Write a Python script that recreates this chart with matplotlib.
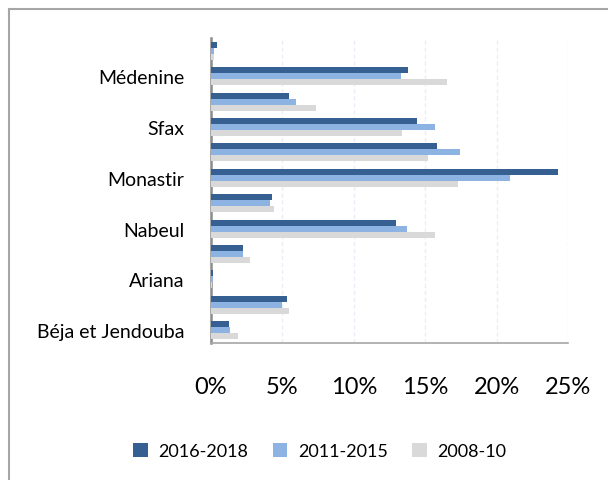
import numpy as np
import matplotlib

matplotlib.use('Agg')

import matplotlib.pyplot as plt
from matplotlib.lines import Line2D

plt.rcParams['font.family'] = ['Lato', 'DejaVu Sans']

# categories from top to bottom (only every other label is shown on the chart)
regions = ['Tataouine', 'Médenine', 'Gabès', 'Sfax', 'Sousse', 'Monastir',
           'Mahdia', 'Nabeul', 'Tunis', 'Ariana', 'Bizerte', 'Béja et Jendouba']
shown = [False, True, False, True, False, True, False, True, False, True, False, True]

s2016 = [0.42, 13.8, 5.47, 14.44, 15.84, 24.3, 4.27, 12.96, 2.24, 0.14, 5.33, 1.26]
s2011 = [0.20, 13.3, 5.96, 15.70, 17.45, 20.95, 4.13, 13.73, 2.24, 0.14, 4.98, 1.33]
s2008 = [0.20, 16.5, 7.36, 13.40, 15.20, 17.3, 4.41, 15.70, 2.73, 0.10, 5.47, 1.89]

series = ['2016-2018', '2011-2015', '2008-10']
colors = ['#365f92', '#8db3e2', '#d9d9d9']

fig = plt.figure(figsize=(6.08, 4.81), dpi=100)
ax = fig.add_axes([211/608, 1 - 344/481, 357/608, 305/481])

n = len(regions)
y = np.arange(n)[::-1]
h = 0.236
for k, (vals, lab, col) in enumerate(zip([s2016, s2011, s2008], series, colors)):
    ax.barh(y + (1 - k) * h, vals, height=h, color=col, label=lab, zorder=3)

ax.set_xlim(0, 25)
ax.set_ylim(-0.5, n - 0.5)
ax.set_xticks([0, 5, 10, 15, 20, 25])
ax.set_xticklabels(['0%', '5%', '10%', '15%', '20%', '25%'], fontsize=17)
ax.set_yticks(y)
ax.set_yticklabels([r if s else '' for r, s in zip(regions, shown)], fontsize=14)
ax.tick_params(axis='x', length=0, pad=24)
ax.tick_params(axis='y', length=0, pad=19)

ax.grid(axis='x', color='#e8edf6', linestyle=(0, (3, 2)), linewidth=1, zorder=0)
for sp in ['top', 'right']:
    ax.spines[sp].set_visible(False)
ax.spines['left'].set_color('#8c8c8c')
ax.spines['left'].set_linewidth(1.8)
ax.spines['bottom'].set_color('#a6a6a6')
ax.spines['bottom'].set_linewidth(1.2)

fig.legend(loc='center', bbox_to_anchor=(320/608, 1 - 452/481), ncol=3, frameon=False,
           fontsize=13, handlelength=0.8, handleheight=0.8, columnspacing=1.35,
           handletextpad=0.6)

# outer frame (clipped at right and bottom)
fig.add_artist(Line2D([8.5/608, 1.0], [1 - 9.5/481, 1 - 9.5/481], color='#a6a6a6', lw=1.5))
fig.add_artist(Line2D([8.5/608, 8.5/608], [0.0, 1 - 9.5/481], color='#a6a6a6', lw=1.5))

plt.savefig('out.png', dpi=100)
plt.close()
